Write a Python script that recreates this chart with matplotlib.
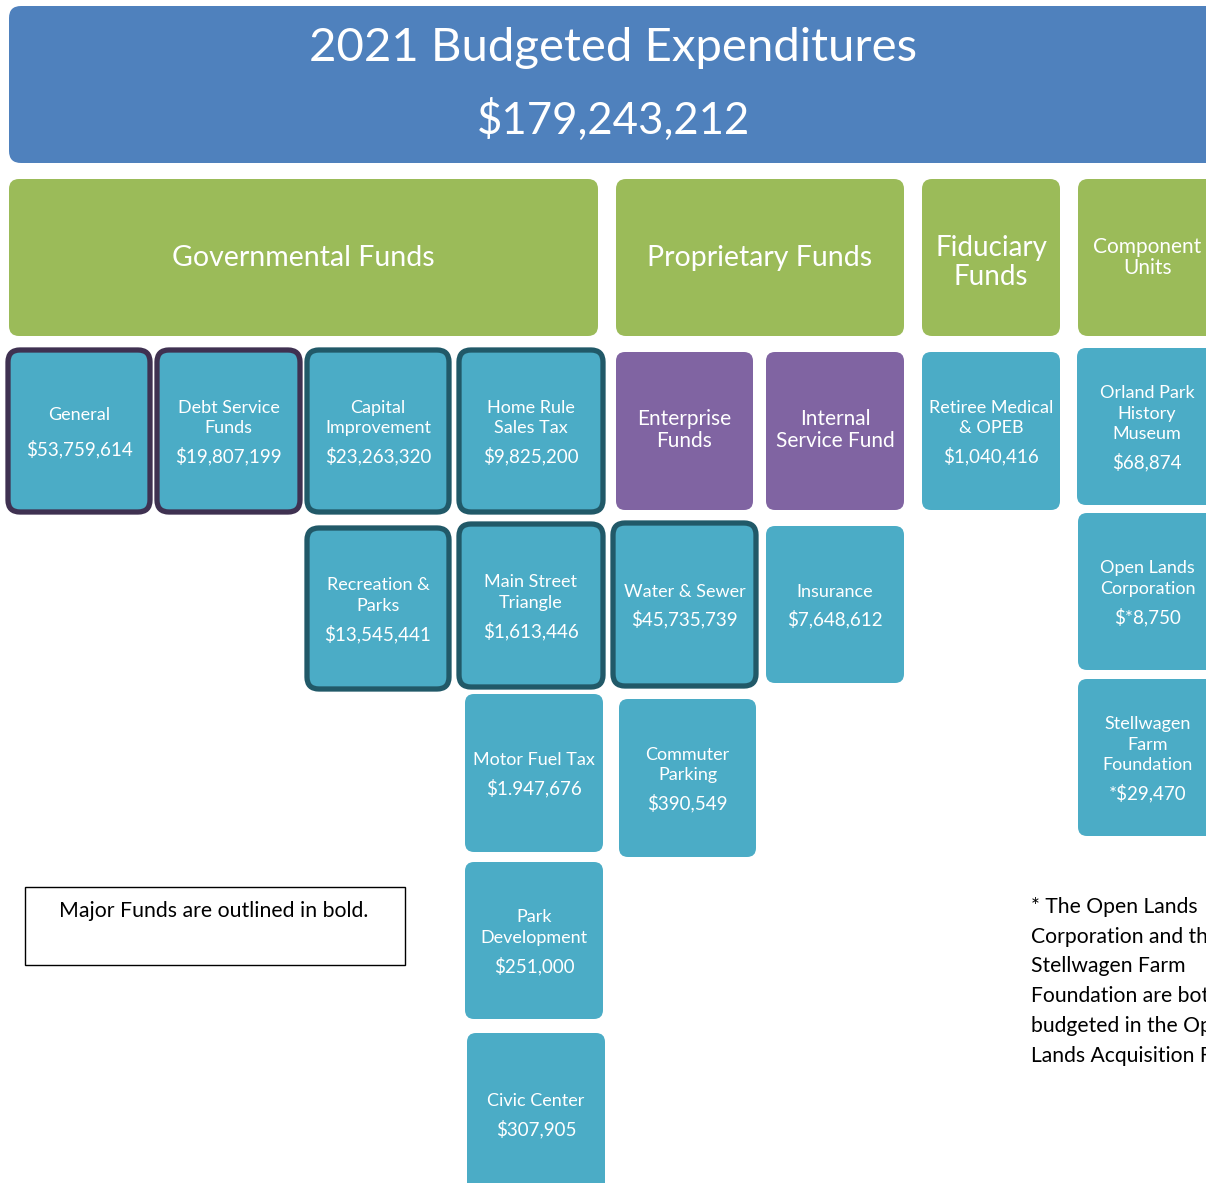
import matplotlib
matplotlib.use("Agg")
import matplotlib.pyplot as plt
from matplotlib.patches import FancyBboxPatch, Rectangle

plt.rcParams['font.family'] = ['Lato', 'DejaVu Sans']

# ---------------- data ----------------
title = "2021 Budgeted Expenditures"
total = "$179,243,212"

groups = ["Governmental Funds", "Proprietary Funds", "Fiduciary\nFunds", "Component\nUnits"]

fund_labels = [
    "General", "Debt Service\nFunds", "Capital\nImprovement", "Home Rule\nSales Tax",
    "Enterprise\nFunds", "Internal\nService Fund", "Retiree Medical\n& OPEB",
    "Orland Park\nHistory\nMuseum",
    "Recreation &\nParks", "Main Street\nTriangle", "Water & Sewer", "Insurance",
    "Open Lands\nCorporation",
    "Motor Fuel Tax", "Commuter\nParking", "Stellwagen\nFarm\nFoundation",
    "Park\nDevelopment", "Civic Center",
]
fund_values = [
    "$53,759,614", "$19,807,199", "$23,263,320", "$9,825,200",
    "", "", "$1,040,416", "$68,874",
    "$13,545,441", "$1,613,446", "$45,735,739", "$7,648,612", "$*8,750",
    "$1.947,676", "$390,549", "*$29,470",
    "$251,000", "$307,905",
]
# kind: 'mp' = major (purple outline), 'mt' = major (teal outline), 'p' = purple category, 'n' = normal
fund_kinds = [
    "mp", "mp", "mt", "mt",
    "p", "p", "n", "n",
    "mt", "mt", "mt", "n", "n",
    "n", "n", "n",
    "n", "n",
]

legend_text = "Major Funds are outlined in bold."
footnote = ("* The Open Lands\nCorporation and the\nStellwagen Farm\n"
            "Foundation are both\nbudgeted in the Open\nLands Acquisition Fund")

# ---------------- layout (pixel boxes: x0, y0, x1, y1) ----------------
group_boxes = [(9, 179, 598, 336), (616, 179, 904, 336), (922, 179, 1060, 336), (1078, 179, 1240, 336)]
group_sizes = [20.5, 20.5, 20, 15]
group_dy = [0, 0, 5, 0]
fund_boxes = [
    (8, 350, 150, 512), (157, 350, 300, 512), (307, 350, 449, 512), (459, 350, 603, 512),
    (616, 352, 753, 510), (766, 352, 904, 510), (922, 352, 1060, 510), (1077, 348, 1240, 505),
    (307, 528, 449, 689), (459, 524, 603, 687), (613, 523, 756, 686), (766, 526, 904, 683),
    (1078, 513, 1240, 670),
    (465, 694, 603, 852), (619, 699, 756, 857), (1078, 679, 1240, 836),
    (465, 862, 603, 1019), (467, 1033, 605, 1200),
]
fund_gap = [34, 28, 28, 28, 0, 0, 28, 28, 28, 28, 28, 28, 28, 28, 28, 28, 28, 28]

BLUE = "#4BACC6"
TITLE_BLUE = "#4F81BD"
GREEN = "#9BBB59"
PURPLE = "#8064A2"
DARK_PURPLE = "#3F3151"
DARK_TEAL = "#215968"

W, H = 1206, 1183
fig = plt.figure(figsize=(W / 100, H / 100), dpi=100)
ax = fig.add_axes([0, 0, 1, 1])
ax.set_xlim(0, W)
ax.set_ylim(H, 0)
ax.axis("off")


def rbox(b, fc, ec="none", lw=0, r=10):
    x0, y0, x1, y1 = b
    p = FancyBboxPatch((x0, y0), x1 - x0, y1 - y0,
                       boxstyle=f"round,pad=0,rounding_size={r}",
                       fc=fc, ec=ec, lw=lw, joinstyle="round")
    ax.add_patch(p)


# title
rbox((9, 6, 1260, 163), TITLE_BLUE, r=12)
ax.text(613, 48, title, color="white", fontsize=34, ha="center", va="center")
ax.text(613, 120, total, color="white", fontsize=31.5, ha="center", va="center")

# groups
for name, b, fs, dy in zip(groups, group_boxes, group_sizes, group_dy):
    rbox(b, GREEN, r=10)
    cx = (b[0] + min(b[2], 1217)) / 2
    cy = (b[1] + b[3]) / 2 + dy
    ax.text(cx, cy, name, color="white", fontsize=fs,
            ha="center", va="center", linespacing=1.1)

# funds
for lab, val, kind, b, gap in zip(fund_labels, fund_values, fund_kinds, fund_boxes, fund_gap):
    if kind == "mp":
        rbox(b, BLUE, DARK_PURPLE, 3.8, r=12)
    elif kind == "mt":
        rbox(b, BLUE, DARK_TEAL, 3.8, r=12)
    elif kind == "p":
        rbox(b, PURPLE, r=9)
    else:
        rbox(b, BLUE, r=9)
    cx = (b[0] + min(b[2], 1217)) / 2
    cy = (b[1] + min(b[3], 1195)) / 2
    nlines = lab.count("\n") + 1
    if kind == "p":
        ax.text(cx, cy - 1, lab, color="white", fontsize=15, ha="center",
                va="center", linespacing=1.1)
        continue
    line_h = 20.5
    block = (nlines - 1) * line_h + gap
    top = cy - block / 2 + 1
    for i, line in enumerate(lab.split("\n")):
        ax.text(cx, top + i * line_h, line, color="white", fontsize=13,
                ha="center", va="center")
    ax.text(cx, top + (nlines - 1) * line_h + gap, val, color="white",
            fontsize=13.5, ha="center", va="center")

# legend box
ax.add_patch(Rectangle((25, 887), 380, 78, fc="white", ec="black", lw=1.0))
ax.text(214, 911, legend_text, color="black", fontsize=15.3, ha="center", va="center")

# footnote
for i, line in enumerate(footnote.split("\n")):
    ax.text(1031, 907 + i * 29.7, line, color="black", fontsize=15.2,
            ha="left", va="center")

fig.savefig("out.png", dpi=100)
